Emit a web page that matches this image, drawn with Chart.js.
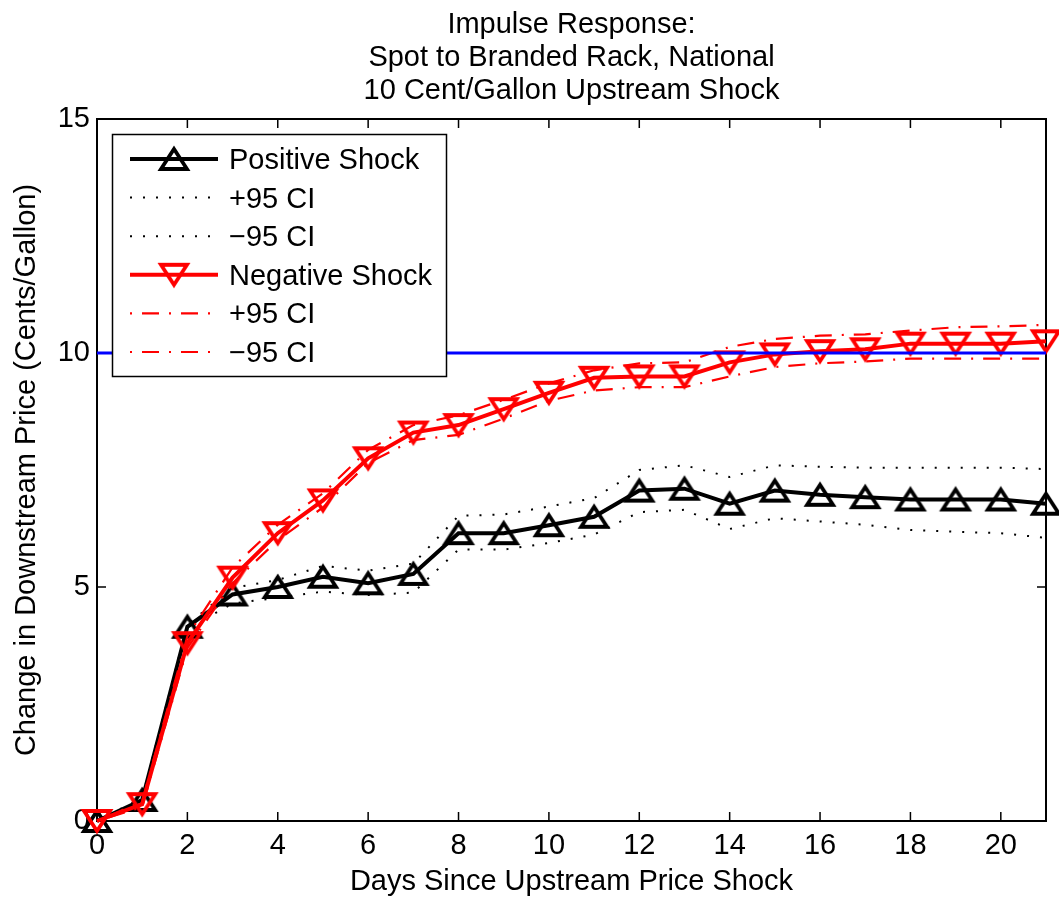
<!DOCTYPE html>
<html>
<head>
<meta charset="utf-8">
<script src="https://cdn.jsdelivr.net/npm/chart.js@4/dist/chart.umd.min.js"></script>
<style>
  html, body { margin: 0; padding: 0; background: #fff; }
</style>
</head>
<body>
<canvas id="irf-chart" width="1059" height="901"></canvas>
<script>
const titleLines = [
  'Impulse Response:',
  'Spot to Branded Rack, National',
  '10 Cent/Gallon Upstream Shock',
]
const xTitle = 'Days Since Upstream Price Shock'
const yTitle = 'Change in Downstream Price (Cents/Gallon)'

const days = [0, 1, 2, 3, 4, 5, 6, 7, 8, 9, 10, 11, 12, 13, 14, 15, 16, 17, 18, 19, 20, 21]
const shockSize = 10

const posShock = [0, 0.45, 4.15, 4.84, 5.0, 5.22, 5.08, 5.28, 6.15, 6.15, 6.32, 6.5,
  7.06, 7.1, 6.78, 7.06, 6.97, 6.92, 6.87, 6.87, 6.87, 6.78]
const posUpper = [0, 0.5, 4.2, 4.98, 5.15, 5.45, 5.35, 5.5, 6.52, 6.55, 6.72, 6.9,
  7.5, 7.6, 7.35, 7.6, 7.57, 7.55, 7.55, 7.55, 7.55, 7.52]
const posLower = [0, 0.4, 4.1, 4.65, 4.77, 4.9, 4.83, 4.88, 5.8, 5.8, 5.94, 6.12,
  6.6, 6.65, 6.24, 6.47, 6.4, 6.33, 6.22, 6.18, 6.15, 6.05]

const negShock = [0, 0.36, 3.8, 5.2, 6.15, 6.85, 7.75, 8.3, 8.46, 8.8, 9.15, 9.47,
  9.5, 9.5, 9.8, 9.97, 10.04, 10.08, 10.2, 10.2, 10.2, 10.25]
const negUpper = [0, 0.42, 3.95, 5.42, 6.33, 7.0, 7.93, 8.46, 8.67, 9.0, 9.35, 9.63,
  9.78, 9.8, 10.13, 10.3, 10.37, 10.4, 10.48, 10.55, 10.57, 10.6]
const negLower = [0, 0.3, 3.7, 5.08, 6.0, 6.7, 7.65, 8.14, 8.25, 8.6, 8.98, 9.2,
  9.27, 9.27, 9.5, 9.7, 9.78, 9.82, 9.88, 9.88, 9.88, 9.88]

const legendLabels = ['Positive Shock', '+95 CI', '\u221295 CI', 'Negative Shock', '+95 CI', '\u221295 CI']

const fontFamily = '"Liberation Sans", Arial, Helvetica, sans-serif'
const fontSize = 29

// hollow matlab-like triangle markers
function makeTriangle (color, down) {
  const c = document.createElement('canvas')
  c.width = 36
  c.height = 34
  const g = c.getContext('2d')
  const w = 26
  const h = 20
  const cx = 18
  const cy = 17
  g.strokeStyle = color
  g.lineWidth = 3.8
  g.beginPath()
  if (down) {
    g.moveTo(cx, cy + h / 2)
    g.lineTo(cx + w / 2, cy - h / 2)
    g.lineTo(cx - w / 2, cy - h / 2)
  } else {
    g.moveTo(cx, cy - h / 2)
    g.lineTo(cx + w / 2, cy + h / 2)
    g.lineTo(cx - w / 2, cy + h / 2)
  }
  g.closePath()
  g.stroke()
  return c
}
const upTriangle = makeTriangle('#000000', false)
const downTriangle = makeTriangle('#ff0000', true)

function toPoints (values) {
  return days.map((d, i) => ({ x: d, y: values[i] }))
}

const dotted = [2, 11]
const dashDot = [2, 10, 17, 10]

const datasets = [
  {
    label: legendLabels[0], data: toPoints(posShock), borderColor: '#000000', borderWidth: 4,
    pointStyle: upTriangle, pointRadius: 13, order: 4,
  },
  {
    label: legendLabels[1], data: toPoints(posUpper), borderColor: '#000000', borderWidth: 2,
    borderDash: dotted, pointRadius: 0, order: 5,
  },
  {
    label: legendLabels[2], data: toPoints(posLower), borderColor: '#000000', borderWidth: 2,
    borderDash: dotted, pointRadius: 0, order: 5,
  },
  {
    label: legendLabels[3], data: toPoints(negShock), borderColor: '#ff0000', borderWidth: 4,
    pointStyle: downTriangle, pointRadius: 13, order: 2,
  },
  {
    label: legendLabels[4], data: toPoints(negUpper), borderColor: '#ff0000', borderWidth: 2.2,
    borderDash: dashDot, pointRadius: 0, order: 1,
  },
  {
    label: legendLabels[5], data: toPoints(negLower), borderColor: '#ff0000', borderWidth: 2.2,
    borderDash: dashDot, pointRadius: 0, order: 1,
  },
  {
    label: 'shock', data: [{ x: days[0], y: shockSize }, { x: days[days.length - 1], y: shockSize }],
    borderColor: '#0000ff', borderWidth: 3, pointRadius: 0, order: 0,
  },
]
datasets.forEach(ds => {
  ds.fill = false
  ds.tension = 0
  ds.clip = false
  ds.pointHoverRadius = ds.pointRadius
  ds.pointBorderWidth = 0
  ds.backgroundColor = 'rgba(0,0,0,0)'
})

const titlePlugin = {
  id: 'matlabTitle',
  afterDraw (chart) {
    const ctx = chart.ctx
    const area = chart.chartArea
    ctx.save()
    ctx.fillStyle = '#000'
    ctx.font = fontSize + 'px ' + fontFamily
    ctx.textAlign = 'center'
    ctx.textBaseline = 'alphabetic'
    titleLines.forEach((t, i) => {
      ctx.fillText(t, (area.left + area.right) / 2, 33 + i * 33)
    })
    ctx.restore()
  },
}

const axesPlugin = {
  id: 'matlabAxes',
  beforeDatasetsDraw (chart) {
    const ctx = chart.ctx
    const a = chart.chartArea
    const xs = chart.scales.x
    const ys = chart.scales.y
    const tl = 9
    ctx.save()
    ctx.strokeStyle = '#000'
    ctx.lineWidth = 1.5
    ctx.beginPath()
    xs.ticks.forEach(t => {
      const px = xs.getPixelForValue(t.value)
      ctx.moveTo(px, a.bottom)
      ctx.lineTo(px, a.bottom - tl)
      ctx.moveTo(px, a.top)
      ctx.lineTo(px, a.top + tl)
    })
    ys.ticks.forEach(t => {
      const py = ys.getPixelForValue(t.value)
      ctx.moveTo(a.left, py)
      ctx.lineTo(a.left + tl, py)
      ctx.moveTo(a.right, py)
      ctx.lineTo(a.right - tl, py)
    })
    ctx.stroke()
    ctx.lineWidth = 2
    ctx.strokeRect(a.left, a.top, a.right - a.left, a.bottom - a.top)
    ctx.restore()
  },
}

const legendPlugin = {
  id: 'matlabLegend',
  afterDraw (chart) {
    const ctx = chart.ctx
    const box = { x: 112.5, y: 134.5, w: 334, h: 242 }
    ctx.save()
    ctx.fillStyle = '#fff'
    ctx.fillRect(box.x, box.y, box.w, box.h)
    ctx.strokeStyle = '#000'
    ctx.lineWidth = 1.5
    ctx.strokeRect(box.x, box.y, box.w, box.h)
    ctx.font = fontSize + 'px ' + fontFamily
    ctx.textBaseline = 'middle'
    ctx.textAlign = 'left'
    for (let i = 0; i < legendLabels.length; i++) {
      const ds = datasets[i]
      const y = 159 + i * 38.6
      ctx.strokeStyle = ds.borderColor
      ctx.lineWidth = ds.borderWidth
      ctx.setLineDash(ds.borderDash || [])
      ctx.beginPath()
      ctx.moveTo(130, y)
      ctx.lineTo(218, y)
      ctx.stroke()
      ctx.setLineDash([])
      if (ds.pointRadius > 0) {
        const img = ds.pointStyle
        ctx.drawImage(img, 174 - img.width / 2, y - img.height / 2)
      }
      ctx.fillStyle = '#000'
      ctx.fillText(legendLabels[i], 229, y + 2)
    }
    ctx.restore()
  },
}

const chartConfig = {
  type: 'line',
  data: {
    datasets: datasets,
  },
  options: {
    responsive: false,
    animation: false,
    layout: {
      padding: { top: 119, right: 10, bottom: 0, left: 0 },
    },
    plugins: {
      legend: { display: false },
      title: { display: false },
      tooltip: { enabled: false },
    },
    interaction: { mode: null },
    events: [],
    scales: {
      x: {
        type: 'linear',
        min: 0,
        max: 21,
        afterFit (scale) { scale.height = 80 },
        grid: { display: false, drawTicks: false },
        border: { display: false },
        ticks: {
          stepSize: 2,
          includeBounds: false,
          color: '#000',
          padding: 8,
          maxRotation: 0,
          font: { family: fontFamily, size: fontSize, lineHeight: 1.2 },
        },
        title: {
          display: true,
          text: xTitle,
          color: '#000',
          padding: { top: 0, bottom: 2 },
          font: { family: fontFamily, size: fontSize, lineHeight: 1.2 },
        },
      },
      y: {
        type: 'linear',
        min: 0,
        max: 15,
        afterFit (scale) { scale.width = 97 },
        grid: { display: false, drawTicks: false },
        border: { display: false },
        ticks: {
          stepSize: 5,
          color: '#000',
          padding: 7,
          font: { family: fontFamily, size: fontSize, lineHeight: 1.2 },
        },
        title: {
          display: true,
          text: yTitle,
          color: '#000',
          padding: { top: 10, bottom: 0 },
          font: { family: fontFamily, size: fontSize, lineHeight: 1.2 },
        },
      },
    },
  },
  plugins: [axesPlugin, titlePlugin, legendPlugin],
}

const irfCanvas = document.getElementById('irf-chart').getContext('2d')
const irfChart = new Chart(irfCanvas, chartConfig)
</script>
</body>
</html>
